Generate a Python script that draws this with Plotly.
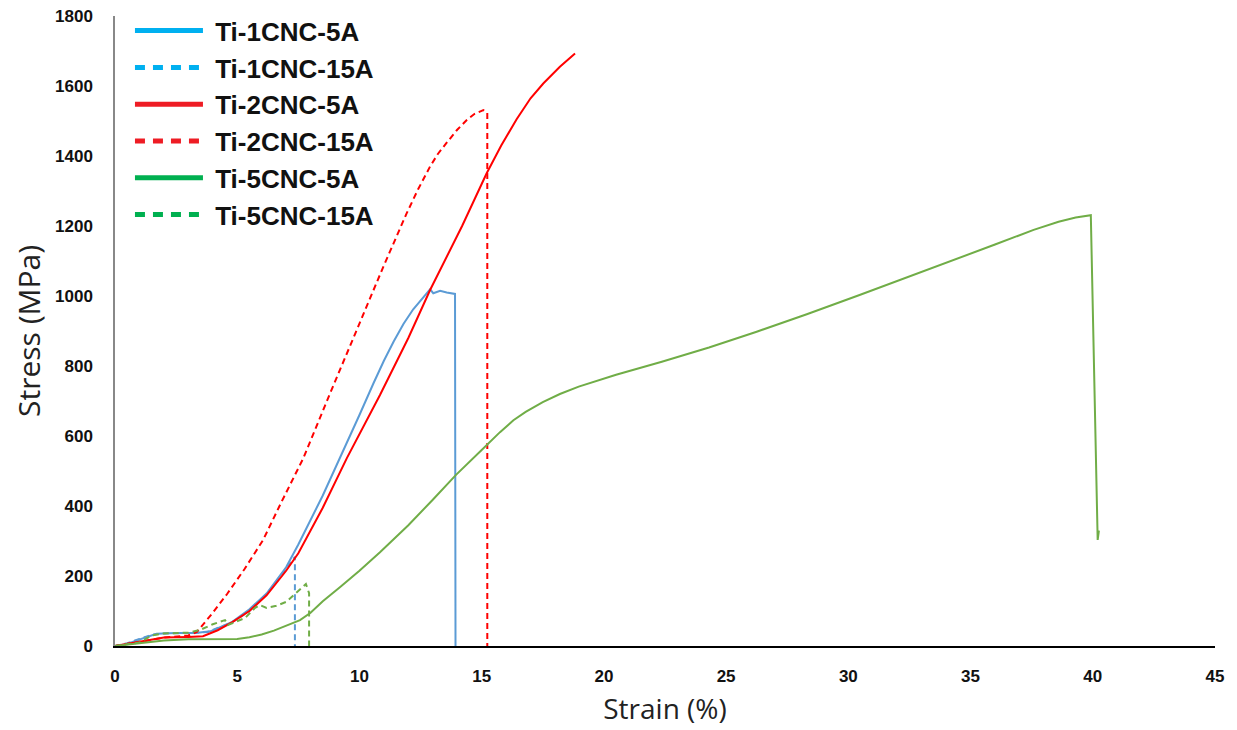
import plotly.graph_objects as go

# ---- data (strain %, stress MPa) ----
ti1_5_x = [0, 0.5, 0.8, 1.2, 1.7, 2.5, 3.3, 3.9, 4.8, 5.5, 6.2, 7.0, 7.5, 8.5, 9.2, 10.0, 10.57, 11.0, 11.4, 11.8, 12.2, 12.6, 12.89, 13.02, 13.3, 13.57, 13.91, 13.93]
ti1_5_y = [0, 6, 14, 24, 35, 37, 37, 42, 69, 105, 150, 225, 290, 430, 536, 660, 750, 815, 870, 920, 962, 996, 1019, 1008, 1015, 1010, 1006, 0]

ti1_15_x = [0, 0.5, 1.0, 1.5, 2.0, 3.0, 3.8, 4.8, 5.5, 6.2, 6.8, 7.36, 7.36]
ti1_15_y = [0, 8, 20, 32, 36, 37, 40, 68, 100, 148, 200, 255, 0]

ti2_5_x = [0, 1, 2, 3, 3.6, 4.2, 4.8, 5.5, 6.2, 7.0, 7.5, 8.5, 9.48, 10.84, 12.0, 12.89, 13.2, 14.2, 15.2, 15.8, 16.43, 17.0, 17.52, 18.2, 18.82]
ti2_5_y = [0, 12, 24, 26, 28, 45, 68, 100, 145, 215, 265, 395, 536, 717, 880, 1017, 1060, 1200, 1350, 1430, 1505, 1565, 1607, 1655, 1693]

ti2_15_x = [0, 1, 2, 3, 3.35, 4.0, 4.6, 5.3, 6.06, 6.8, 7.7, 8.8, 9.89, 10.98, 11.93, 12.4, 12.89, 13.2, 13.57, 14.0, 14.39, 14.7, 15.07, 15.23, 15.23]
ti2_15_y = [0, 12, 24, 30, 40, 95, 150, 220, 303, 410, 536, 722, 903, 1084, 1236, 1305, 1370, 1405, 1438, 1475, 1503, 1520, 1531, 1524, 0]

ti5_5_x = [0, 1, 2, 3, 4, 5.0, 5.5, 6.0, 6.5, 7.0, 7.57, 8.0, 8.5, 9.2, 10.0, 10.84, 12.0, 13.0, 13.95, 15.0, 15.75, 16.3, 16.8, 17.5, 18.2, 18.97, 20.5, 22.37, 24.3, 26.25, 28.3, 30.46, 32.4, 34.34, 36.0, 37.58, 38.6, 39.3, 39.92, 40.2, 40.25]
ti5_5_y = [0, 8, 16, 19, 20, 20, 25, 33, 44, 57, 74, 95, 128, 168, 215, 268, 345, 418, 489, 560, 611, 645, 669, 697, 720, 741, 775, 812, 853, 898, 948, 1003, 1053, 1103, 1147, 1189, 1212, 1224, 1231, 303, 330]

ti5_15_x = [0, 1, 1.5, 2, 3, 3.48, 4.0, 4.5, 4.62, 5.0, 5.32, 5.73, 5.93, 6.2, 6.6, 7.0, 7.57, 7.81, 7.94, 7.94]
ti5_15_y = [0, 10, 30, 36, 38, 46, 62, 74, 60, 72, 80, 109, 117, 109, 115, 126, 160, 177, 151, 0]

names = ["Ti-1CNC-5A", "Ti-1CNC-15A", "Ti-2CNC-5A", "Ti-2CNC-15A", "Ti-5CNC-5A", "Ti-5CNC-15A"]
series_x = [ti1_5_x, ti1_15_x, ti2_5_x, ti2_15_x, ti5_5_x, ti5_15_x]
series_y = [ti1_5_y, ti1_15_y, ti2_5_y, ti2_15_y, ti5_5_y, ti5_15_y]
line_colors = ["#5B9BD5", "#5B9BD5", "#FF0000", "#FF0000", "#70AD47", "#70AD47"]
legend_colors = ["#00B0F0", "#00B0F0", "#EE1C24", "#EE1C24", "#00B050", "#00B050"]
dashes = ["solid", "6px,4px", "solid", "6px,4px", "solid", "6px,4px"]

x_ticks = [0, 5, 10, 15, 20, 25, 30, 35, 40, 45]
y_ticks = [0, 200, 400, 600, 800, 1000, 1200, 1400, 1600, 1800]

fig = go.Figure()
for i in range(len(names)):
    fig.add_trace(go.Scatter(
        x=series_x[i], y=series_y[i], mode="lines", name=names[i],
        line=dict(color=line_colors[i], width=2, dash=dashes[i]),
        showlegend=False, hoverinfo="skip"))
# legend entries (legend colours differ from line colours in the reference)
for i in range(len(names)):
    fig.add_trace(go.Scatter(
        x=[None], y=[None], mode="lines", name="&nbsp;<b>" + names[i] + "</b>",
        legendgroup=names[i],
        line=dict(color=legend_colors[i], width=5,
                  dash=("solid" if dashes[i] == "solid" else "10px,8px"))))

fig.update_layout(
    width=1237, height=730,
    margin=dict(l=115, r=22, t=16, b=84, autoexpand=False),
    paper_bgcolor="white", plot_bgcolor="white",
    font=dict(family="Liberation Sans", color="#1a1a1a"),
    legend=dict(x=0.0136, y=1.014, xanchor="left", yanchor="top",
                bgcolor="rgba(0,0,0,0)", tracegroupgap=7.6,
                itemwidth=68,
                font=dict(size=26, family="Liberation Sans", color="#111111"),
                traceorder="normal"),
    showlegend=True,
)
fig.update_xaxes(
    range=[0, 45], tickvals=x_ticks, ticktext=[f"<b>{v}</b>" for v in x_ticks],
    showgrid=False, zeroline=False, showline=True, linecolor="#000000", linewidth=1.5,
    ticks="", ticklabelstandoff=14,
    tickfont=dict(size=17, family="Liberation Sans", color="#111111"),
    title=dict(text="Strain (%)", font=dict(size=28, family="Open Sans", color="#222222"), standoff=14),
)
fig.update_yaxes(
    range=[0, 1800], tickvals=y_ticks, ticktext=[f"<b>{v}</b>" for v in y_ticks],
    showgrid=False, zeroline=False, showline=True, linecolor="#888888", linewidth=1.5,
    ticks="", ticklabelstandoff=17,
    tickfont=dict(size=17, family="Liberation Sans", color="#111111"),
    title=dict(text="Stress (MPa)", font=dict(size=30, family="Open Sans", color="#222222"), standoff=6),
)

fig.write_html("out.html")
